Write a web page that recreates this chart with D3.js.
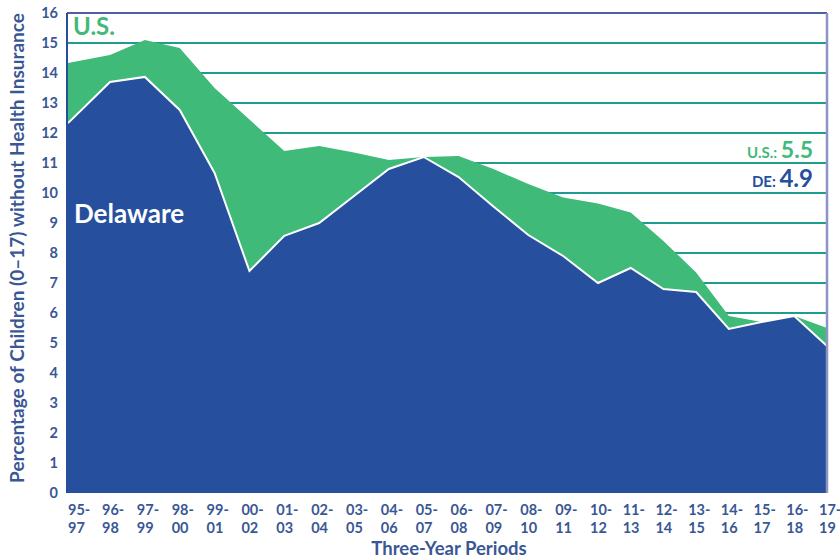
<!DOCTYPE html>
<html>
<head>
<meta charset="utf-8">
<script src="https://cdn.jsdelivr.net/npm/d3@7/dist/d3.min.js"></script>
<style>
  body { margin: 0; background: #fff; }
  text { font-family: Lato, "Open Sans", sans-serif; font-weight: 700; }
</style>
</head>
<body>
<svg id="chart"></svg>
<script>
// three-year periods on the x axis
const periods = ["95-97", "96-98", "97-99", "98-00", "99-01", "00-02", "01-03", "02-04",
  "03-05", "04-06", "05-07", "06-08", "07-09", "08-10", "09-11", "10-12", "11-13",
  "12-14", "13-15", "14-16", "15-17", "16-18", "17-19"];

// % of children (0-17) without health insurance
const usValues = [14.33, 14.6, 15.1, 14.83, 13.5, 12.45, 11.4, 11.57, 11.35, 11.1, 11.2, 11.23,
  10.8, 10.3, 9.85, 9.65, 9.35, 8.4, 7.35, 5.9, 5.7, 5.9, 5.5];
const deValues = [12.33, 13.7, 13.87, 12.77, 10.67, 7.4, 8.57, 9.0, 9.9, 10.8, 11.2, 10.53,
  9.55, 8.6, 7.9, 7.0, 7.5, 6.8, 6.7, 5.47, 5.7, 5.9, 4.9];

const yTicks = d3.range(0, 17);

const width = 840;
const height = 558;
const plotLeft = 67, plotRight = 827, plotTop = 13, plotBottom = 493;

const blue = "#264f9d";
const green = "#3fba78";
const teal = "#1f9c8f";
const ink = "#3a5795";

const svg = d3.select("#chart")
  .attr("width", width)
  .attr("height", height);

// category positions are not evenly spaced in the original layout
const x = d3.scaleLinear()
  .domain([0, 1, 15, periods.length - 1])
  .range([plotLeft + 1, 110, 598, plotRight]);

const y = d3.scaleLinear()
  .domain([0, 16])
  .range([plotBottom, plotTop]);

// gridlines behind the areas
svg.append("g")
  .selectAll("line")
  .data(yTicks.filter(d => d > 0 && d < 16))
  .join("line")
  .attr("x1", plotLeft)
  .attr("x2", plotRight)
  .attr("y1", d => y(d))
  .attr("y2", d => y(d))
  .attr("stroke", teal)
  .attr("stroke-width", 2);

const rows = periods.map((p, i) => ({ i, us: usValues[i], de: deValues[i] }));

const usArea = d3.area()
  .x(d => x(d.i))
  .y0(y(0))
  .y1(d => y(d.us));

const deArea = d3.area()
  .x(d => x(d.i))
  .y0(y(0))
  .y1(d => y(d.de));

const deLine = d3.line()
  .x(d => x(d.i))
  .y(d => y(d.de));

svg.append("path")
  .datum(rows)
  .attr("d", usArea)
  .attr("fill", green);

svg.append("path")
  .datum(rows)
  .attr("d", deArea)
  .attr("fill", blue);

svg.append("path")
  .datum(rows)
  .attr("d", deLine)
  .attr("fill", "none")
  .attr("stroke", "#fff")
  .attr("stroke-width", 2);

// frame
svg.append("line")
  .attr("x1", plotLeft).attr("x2", plotRight)
  .attr("y1", plotTop).attr("y2", plotTop)
  .attr("stroke", "#4d60a6").attr("stroke-width", 2);
svg.append("line")
  .attr("x1", plotLeft).attr("x2", plotLeft)
  .attr("y1", plotTop).attr("y2", plotBottom)
  .attr("stroke", blue).attr("stroke-width", 2);
svg.append("line")
  .attr("x1", plotRight).attr("x2", plotRight)
  .attr("y1", plotTop).attr("y2", plotBottom)
  .attr("stroke", "#8d93c2").attr("stroke-width", 2.5);

// y tick labels
svg.append("g")
  .selectAll("text")
  .data(yTicks)
  .join("text")
  .attr("x", 58)
  .attr("y", d => y(d))
  .attr("dy", "0.36em")
  .attr("text-anchor", "end")
  .attr("font-size", 14.5)
  .attr("fill", ink)
  .text(d => d);

// x tick labels, two lines, left aligned
const tickX = i => Math.min(Math.max(x(i) - 8, plotLeft + 1), width - 21);

svg.append("g")
  .selectAll("text")
  .data(periods)
  .join("text")
  .attr("x", (p, i) => tickX(i))
  .attr("y", 515)
  .attr("font-size", 14.5)
  .attr("fill", ink)
  .text(p => p.split("-")[0] + "-");

svg.append("g")
  .selectAll("text")
  .data(periods)
  .join("text")
  .attr("x", (p, i) => tickX(i))
  .attr("y", 532.5)
  .attr("font-size", 14.5)
  .attr("fill", ink)
  .text(p => p.split("-")[1]);

// axis titles
svg.append("text")
  .attr("transform", `translate(24, 248) rotate(-90)`)
  .attr("text-anchor", "middle")
  .attr("font-size", 19)
  .attr("fill", ink)
  .text("Percentage of Children (0–17) without Health Insurance");

svg.append("text")
  .attr("x", 449)
  .attr("y", 555)
  .attr("text-anchor", "middle")
  .attr("font-size", 18.5)
  .attr("fill", ink)
  .text("Three-Year Periods");

// series labels
svg.append("text")
  .attr("x", 73).attr("y", 35)
  .attr("font-size", 24)
  .attr("fill", green)
  .text("U.S.");

svg.append("text")
  .attr("x", 74).attr("y", 223)
  .attr("font-size", 26)
  .attr("fill", "#fff")
  .text("Delaware");

const usLabel = svg.append("text")
  .attr("x", 813).attr("y", 158)
  .attr("text-anchor", "end")
  .attr("fill", green);
usLabel.append("tspan").attr("font-size", 15).text("U.S.: ");
usLabel.append("tspan").attr("font-size", 23).text(usValues[usValues.length - 1].toFixed(1));

const deLabel = svg.append("text")
  .attr("x", 813).attr("y", 187)
  .attr("text-anchor", "end")
  .attr("fill", blue);
deLabel.append("tspan").attr("font-size", 15).text("DE: ");
deLabel.append("tspan").attr("font-size", 24).text(deValues[deValues.length - 1].toFixed(1));
</script>
</body>
</html>
